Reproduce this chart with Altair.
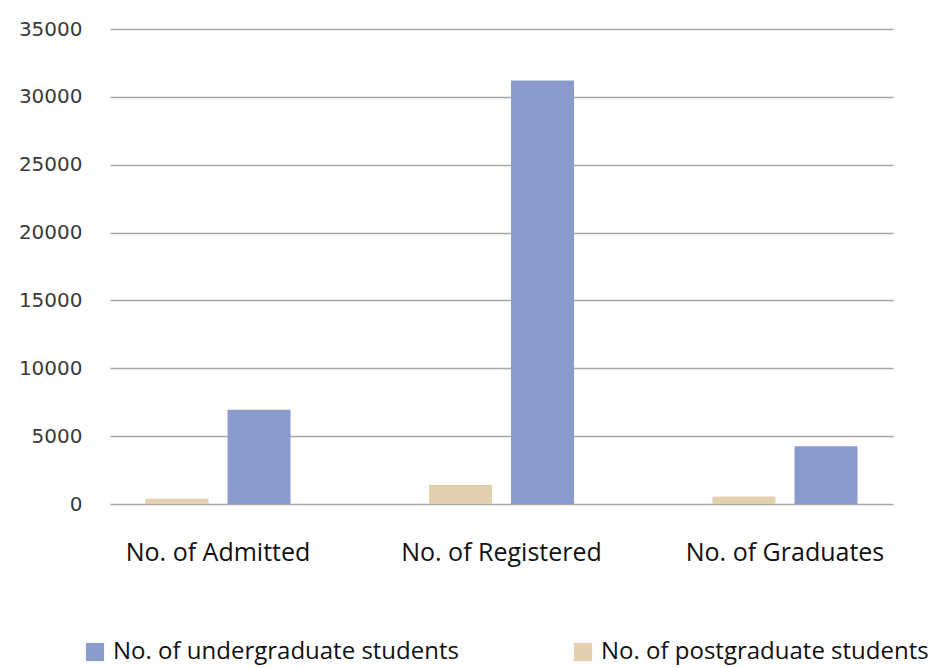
import altair as alt
import pandas as pd

categories = ["No. of Admitted", "No. of Registered", "No. of Graduates"]
series = ["No. of undergraduate students", "No. of postgraduate students"]
undergrad = [6950, 31200, 4250]
postgrad = [380, 1400, 560]
y_ticks = [0, 5000, 10000, 15000, 20000, 25000, 30000, 35000]

rows = []
for c, u, p in zip(categories, undergrad, postgrad):
    rows.append({"category": c, "series": series[1], "value": p, "order": 0})
    rows.append({"category": c, "series": series[0], "value": u, "order": 1})
df = pd.DataFrame(rows)

chart = alt.Chart(df).mark_bar().encode(
    x=alt.X("category:N", sort=categories, title=None,
            scale=alt.Scale(paddingInner=0.238, paddingOuter=0),
            axis=alt.Axis(labelAngle=0, labelFontSize=25, labelFont="Open Sans",
                          labelColor="#111111", labelPadding=36, ticks=False,
                          labelLimit=400, domain=False, grid=False)),
    xOffset=alt.XOffset("series:N", sort=[series[1], series[0]],
                        scale=alt.Scale(paddingInner=0.232, paddingOuter=0.433)),
    y=alt.Y("value:Q", title=None,
            scale=alt.Scale(domain=[0, 35000], nice=False),
            axis=alt.Axis(values=y_ticks, format="d", labelFontSize=20,
                          labelFont="DejaVu Sans",
                          labelColor="#3a3a3a", labelPadding=28, ticks=False,
                          domain=False, grid=True, gridColor="#a6a6a6",
                          gridWidth=1.5)),
    color=alt.Color("series:N", sort=series,
                    scale=alt.Scale(domain=series, range=["#8B9ACC", "#E3D0AF"]),
                    legend=alt.Legend(title=None, orient="none", legendX=-27,
                                      legendY=611, direction="horizontal",
                                      columns=2, columnPadding=112,
                                      symbolType="square", symbolSize=330,
                                      symbolStrokeWidth=0,
                                      labelFontSize=24, labelFont="Open Sans",
                                      labelColor="#111111", labelLimit=600,
                                      labelOffset=6)),
).properties(
    width=783, height=475,
    autosize=alt.AutoSizeParams(type="none"),
    padding={"left": 102, "top": 21, "right": 47, "bottom": 164},
).configure_view(stroke=None)

chart.save("out.html", embed_options={"renderer": "svg", "actions": False})
